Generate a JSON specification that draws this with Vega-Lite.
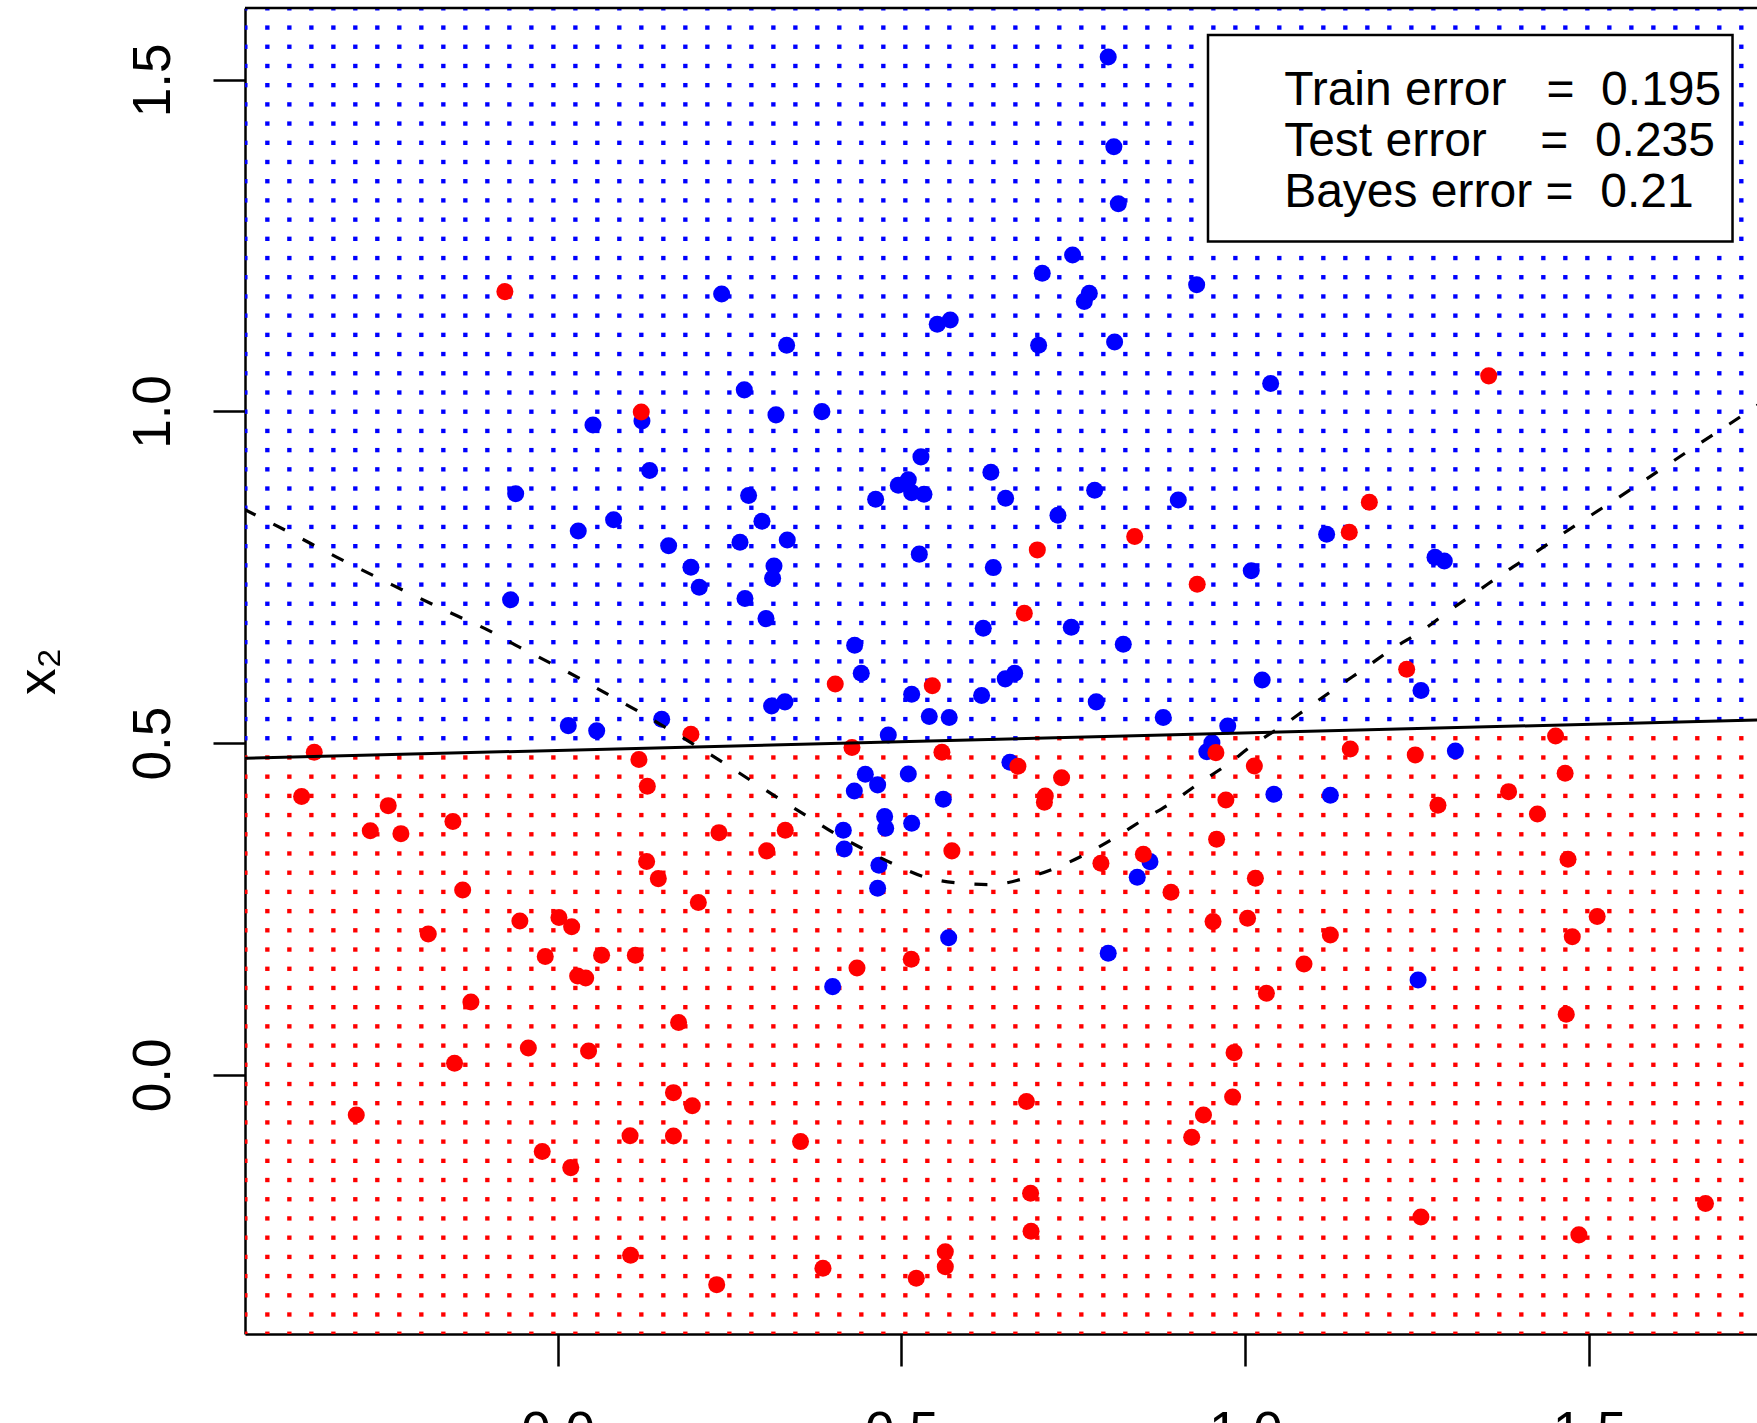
{
  "$schema": "https://vega.github.io/schema/vega-lite/v6.json",
  "width": 1512,
  "height": 1326,
  "autosize": {"type": "none"},
  "padding": {"left": 245, "top": 8, "right": 0, "bottom": 89},
  "background": "white",
  "config": {
    "view": {"stroke": null},
    "font": "Liberation Sans",
    "axis": {"grid": false}
  },
  "datasets": {
    "cols": [
      {"gx": -0.4540, "cut": 0.493, "gy": 1.6077, "v": 1},
      {"gx": -0.4220, "cut": 0.493, "gy": 1.6077, "v": 1},
      {"gx": -0.3900, "cut": 0.493, "gy": 1.6077, "v": 1},
      {"gx": -0.3580, "cut": 0.493, "gy": 1.6077, "v": 1},
      {"gx": -0.3260, "cut": 0.493, "gy": 1.6077, "v": 1},
      {"gx": -0.2941, "cut": 0.493, "gy": 1.6077, "v": 1},
      {"gx": -0.2621, "cut": 0.493, "gy": 1.6077, "v": 1},
      {"gx": -0.2301, "cut": 0.493, "gy": 1.6077, "v": 1},
      {"gx": -0.1981, "cut": 0.493, "gy": 1.6077, "v": 1},
      {"gx": -0.1661, "cut": 0.493, "gy": 1.6077, "v": 1},
      {"gx": -0.1341, "cut": 0.493, "gy": 1.6077, "v": 1},
      {"gx": -0.1021, "cut": 0.493, "gy": 1.6077, "v": 1},
      {"gx": -0.0701, "cut": 0.493, "gy": 1.6077, "v": 1},
      {"gx": -0.0381, "cut": 0.493, "gy": 1.6077, "v": 1},
      {"gx": -0.0061, "cut": 0.493, "gy": 1.6077, "v": 1},
      {"gx": 0.0259, "cut": 0.493, "gy": 1.6077, "v": 1},
      {"gx": 0.0578, "cut": 0.493, "gy": 1.6077, "v": 1},
      {"gx": 0.0898, "cut": 0.493, "gy": 1.6077, "v": 1},
      {"gx": 0.1218, "cut": 0.493, "gy": 1.6077, "v": 1},
      {"gx": 0.1538, "cut": 0.493, "gy": 1.6077, "v": 1},
      {"gx": 0.1858, "cut": 0.493, "gy": 1.6077, "v": 1},
      {"gx": 0.2178, "cut": 0.493, "gy": 1.6077, "v": 1},
      {"gx": 0.2498, "cut": 0.493, "gy": 1.6077, "v": 1},
      {"gx": 0.2818, "cut": 0.493, "gy": 1.6077, "v": 1},
      {"gx": 0.3138, "cut": 0.493, "gy": 1.6077, "v": 1},
      {"gx": 0.3458, "cut": 0.493, "gy": 1.6077, "v": 1},
      {"gx": 0.3777, "cut": 0.493, "gy": 1.6077, "v": 1},
      {"gx": 0.4097, "cut": 0.493, "gy": 1.6077, "v": 1},
      {"gx": 0.4417, "cut": 0.493, "gy": 1.6077, "v": 1},
      {"gx": 0.4737, "cut": 0.493, "gy": 1.6077, "v": 1},
      {"gx": 0.5057, "cut": 0.493, "gy": 1.6077, "v": 1},
      {"gx": 0.5377, "cut": 0.493, "gy": 1.6077, "v": 1},
      {"gx": 0.5697, "cut": 0.493, "gy": 1.6077, "v": 1},
      {"gx": 0.6017, "cut": 0.493, "gy": 1.6077, "v": 1},
      {"gx": 0.6337, "cut": 0.493, "gy": 1.6077, "v": 1},
      {"gx": 0.6657, "cut": 0.493, "gy": 1.6077, "v": 1},
      {"gx": 0.6976, "cut": 0.522, "gy": 1.6077, "v": 1},
      {"gx": 0.7296, "cut": 0.522, "gy": 1.6077, "v": 1},
      {"gx": 0.7616, "cut": 0.522, "gy": 1.6077, "v": 1},
      {"gx": 0.7936, "cut": 0.522, "gy": 1.6077, "v": 1},
      {"gx": 0.8256, "cut": 0.522, "gy": 1.6077, "v": 1},
      {"gx": 0.8576, "cut": 0.522, "gy": 1.6077, "v": 1},
      {"gx": 0.8896, "cut": 0.522, "gy": 1.6077, "v": 1},
      {"gx": 0.9216, "cut": 0.522, "gy": 1.6077, "v": 1},
      {"gx": 0.9536, "cut": 0.522, "gy": 1.6077, "v": 1},
      {"gx": 0.9856, "cut": 0.522, "gy": 1.6077, "v": 1},
      {"gx": 1.0175, "cut": 0.522, "gy": 1.6077, "v": 1},
      {"gx": 1.0495, "cut": 0.522, "gy": 1.6077, "v": 1},
      {"gx": 1.0815, "cut": 0.522, "gy": 1.6077, "v": 1},
      {"gx": 1.1135, "cut": 0.522, "gy": 1.6077, "v": 1},
      {"gx": 1.1455, "cut": 0.522, "gy": 1.6077, "v": 1},
      {"gx": 1.1775, "cut": 0.522, "gy": 1.6077, "v": 1},
      {"gx": 1.2095, "cut": 0.522, "gy": 1.6077, "v": 1},
      {"gx": 1.2415, "cut": 0.522, "gy": 1.6077, "v": 1},
      {"gx": 1.2735, "cut": 0.522, "gy": 1.6077, "v": 1},
      {"gx": 1.3055, "cut": 0.522, "gy": 1.6077, "v": 1},
      {"gx": 1.3374, "cut": 0.522, "gy": 1.6077, "v": 1},
      {"gx": 1.3694, "cut": 0.522, "gy": 1.6077, "v": 1},
      {"gx": 1.4014, "cut": 0.522, "gy": 1.6077, "v": 1},
      {"gx": 1.4334, "cut": 0.522, "gy": 1.6077, "v": 1},
      {"gx": 1.4654, "cut": 0.522, "gy": 1.6077, "v": 1},
      {"gx": 1.4974, "cut": 0.522, "gy": 1.6077, "v": 1},
      {"gx": 1.5294, "cut": 0.522, "gy": 1.6077, "v": 1},
      {"gx": 1.5614, "cut": 0.522, "gy": 1.6077, "v": 1},
      {"gx": 1.5934, "cut": 0.522, "gy": 1.6077, "v": 1},
      {"gx": 1.6254, "cut": 0.522, "gy": 1.6077, "v": 1},
      {"gx": 1.6573, "cut": 0.522, "gy": 1.6077, "v": 1},
      {"gx": 1.6893, "cut": 0.522, "gy": 1.6077, "v": 1},
      {"gx": 1.7213, "cut": 0.522, "gy": 1.6077, "v": 1}
    ],
    "train": [
      {"x1": 0.8007, "x2": 1.5343, "c": 0}, {"x1": 0.8089, "x2": 1.3992, "c": 0}, {"x1": 0.8154, "x2": 1.3130, "c": 0},
      {"x1": 0.7489, "x2": 1.2360, "c": 0}, {"x1": 0.7048, "x2": 1.2085, "c": 0}, {"x1": 0.7732, "x2": 1.1782, "c": 0},
      {"x1": 0.7659, "x2": 1.1657, "c": 0}, {"x1": 0.9293, "x2": 1.1909, "c": 0}, {"x1": 0.2386, "x2": 1.1772, "c": 0},
      {"x1": 0.5710, "x2": 1.1380, "c": 0}, {"x1": 0.5521, "x2": 1.1316, "c": 0}, {"x1": 0.8100, "x2": 1.1049, "c": 0},
      {"x1": 0.6995, "x2": 1.0998, "c": 0}, {"x1": 0.3331, "x2": 1.0998, "c": 0}, {"x1": 0.2715, "x2": 1.0326, "c": 0},
      {"x1": 1.0369, "x2": 1.0421, "c": 0}, {"x1": 0.3844, "x2": 0.9998, "c": 0}, {"x1": 0.3176, "x2": 0.9949, "c": 0},
      {"x1": 0.0515, "x2": 0.9797, "c": 0}, {"x1": 0.1227, "x2": 0.9858, "c": 0}, {"x1": 0.1339, "x2": 0.9110, "c": 0},
      {"x1": -0.0609, "x2": 0.8759, "c": 0}, {"x1": 0.2778, "x2": 0.8733, "c": 0}, {"x1": 0.4625, "x2": 0.8677, "c": 0},
      {"x1": 0.4954, "x2": 0.8889, "c": 0}, {"x1": 0.5100, "x2": 0.8970, "c": 0}, {"x1": 0.5284, "x2": 0.9316, "c": 0},
      {"x1": 0.5149, "x2": 0.8777, "c": 0}, {"x1": 0.5328, "x2": 0.8753, "c": 0}, {"x1": 0.6301, "x2": 0.9085, "c": 0},
      {"x1": 0.6515, "x2": 0.8693, "c": 0}, {"x1": 0.7810, "x2": 0.8814, "c": 0}, {"x1": 0.9026, "x2": 0.8667, "c": 0},
      {"x1": 0.7276, "x2": 0.8436, "c": 0}, {"x1": 0.0815, "x2": 0.8367, "c": 0}, {"x1": 0.0301, "x2": 0.8199, "c": 0},
      {"x1": 0.2972, "x2": 0.8346, "c": 0}, {"x1": 0.2653, "x2": 0.8029, "c": 0}, {"x1": 0.3340, "x2": 0.8064, "c": 0},
      {"x1": 0.1615, "x2": 0.7975, "c": 0}, {"x1": 0.1939, "x2": 0.7652, "c": 0}, {"x1": 0.2060, "x2": 0.7351, "c": 0},
      {"x1": 0.3147, "x2": 0.7672, "c": 0}, {"x1": 0.3127, "x2": 0.7486, "c": 0}, {"x1": 0.2725, "x2": 0.7181, "c": 0},
      {"x1": -0.0683, "x2": 0.7161, "c": 0}, {"x1": 0.3031, "x2": 0.6878, "c": 0}, {"x1": 0.5260, "x2": 0.7850, "c": 0},
      {"x1": 0.6336, "x2": 0.7647, "c": 0}, {"x1": 1.0087, "x2": 0.7601, "c": 0}, {"x1": 1.1183, "x2": 0.8150, "c": 0},
      {"x1": 1.2759, "x2": 0.7804, "c": 0}, {"x1": 1.2894, "x2": 0.7748, "c": 0}, {"x1": 0.7470, "x2": 0.6749, "c": 0},
      {"x1": 0.6190, "x2": 0.6733, "c": 0}, {"x1": 0.4320, "x2": 0.6476, "c": 0}, {"x1": 0.8226, "x2": 0.6492, "c": 0},
      {"x1": 0.4416, "x2": 0.6054, "c": 0}, {"x1": 0.6647, "x2": 0.6054, "c": 0}, {"x1": 0.6510, "x2": 0.5970, "c": 0},
      {"x1": 1.0246, "x2": 0.5954, "c": 0}, {"x1": 0.6166, "x2": 0.5718, "c": 0}, {"x1": 0.5149, "x2": 0.5738, "c": 0},
      {"x1": 1.2555, "x2": 0.5794, "c": 0}, {"x1": 0.3306, "x2": 0.5623, "c": 0}, {"x1": 0.3112, "x2": 0.5562, "c": 0},
      {"x1": 0.5405, "x2": 0.5402, "c": 0}, {"x1": 0.5695, "x2": 0.5387, "c": 0}, {"x1": 0.1514, "x2": 0.5362, "c": 0},
      {"x1": 0.7833, "x2": 0.5623, "c": 0}, {"x1": 0.8807, "x2": 0.5387, "c": 0}, {"x1": 0.9745, "x2": 0.5260, "c": 0},
      {"x1": 0.0156, "x2": 0.5265, "c": 0}, {"x1": 0.0569, "x2": 0.5186, "c": 0}, {"x1": 0.4809, "x2": 0.5125, "c": 0},
      {"x1": 0.9441, "x2": 0.4870, "c": 0}, {"x1": 0.9515, "x2": 0.5005, "c": 0}, {"x1": 0.6578, "x2": 0.4713, "c": 0},
      {"x1": 0.4475, "x2": 0.4532, "c": 0}, {"x1": 0.4654, "x2": 0.4372, "c": 0}, {"x1": 0.4315, "x2": 0.4280, "c": 0},
      {"x1": 0.5100, "x2": 0.4537, "c": 0}, {"x1": 0.5609, "x2": 0.4155, "c": 0}, {"x1": 0.4756, "x2": 0.3894, "c": 0},
      {"x1": 0.4771, "x2": 0.3718, "c": 0}, {"x1": 0.5149, "x2": 0.3794, "c": 0}, {"x1": 0.4155, "x2": 0.3688, "c": 0},
      {"x1": 0.4168, "x2": 0.3407, "c": 0}, {"x1": 0.4673, "x2": 0.3160, "c": 0}, {"x1": 0.4654, "x2": 0.2814, "c": 0},
      {"x1": 0.8614, "x2": 0.3215, "c": 0}, {"x1": 0.8429, "x2": 0.2980, "c": 0}, {"x1": 0.5687, "x2": 0.2069, "c": 0},
      {"x1": 0.8007, "x2": 0.1834, "c": 0}, {"x1": 0.4000, "x2": 0.1331, "c": 0}, {"x1": 1.0416, "x2": 0.4231, "c": 0},
      {"x1": 1.1237, "x2": 0.4216, "c": 0}, {"x1": 1.3055, "x2": 0.4884, "c": 0}, {"x1": 1.2513, "x2": 0.1432, "c": 0},
      {"x1": -0.0766, "x2": 1.1807, "c": 1}, {"x1": 0.1217, "x2": 0.9993, "c": 1}, {"x1": 0.6976, "x2": 0.7914, "c": 1},
      {"x1": 0.8392, "x2": 0.8115, "c": 1}, {"x1": 0.9301, "x2": 0.7397, "c": 1}, {"x1": 1.1512, "x2": 0.8181, "c": 1},
      {"x1": 1.1804, "x2": 0.8632, "c": 1}, {"x1": 1.3540, "x2": 1.0537, "c": 1}, {"x1": 0.6787, "x2": 0.6960, "c": 1},
      {"x1": 0.4038, "x2": 0.5894, "c": 1}, {"x1": 0.5449, "x2": 0.5867, "c": 1}, {"x1": 1.2347, "x2": 0.6115, "c": 1},
      {"x1": 0.1939, "x2": 0.5135, "c": 1}, {"x1": -0.3538, "x2": 0.4863, "c": 1}, {"x1": 0.1183, "x2": 0.4753, "c": 1},
      {"x1": 0.1305, "x2": 0.4351, "c": 1}, {"x1": -0.3722, "x2": 0.4196, "c": 1}, {"x1": -0.2462, "x2": 0.4059, "c": 1},
      {"x1": -0.2723, "x2": 0.3682, "c": 1}, {"x1": -0.2278, "x2": 0.3637, "c": 1}, {"x1": -0.1522, "x2": 0.3819, "c": 1},
      {"x1": 0.1295, "x2": 0.3216, "c": 1}, {"x1": 0.1465, "x2": 0.2959, "c": 1}, {"x1": -0.1380, "x2": 0.2789, "c": 1},
      {"x1": 0.2047, "x2": 0.2598, "c": 1}, {"x1": -0.0548, "x2": 0.2321, "c": 1}, {"x1": 0.0020, "x2": 0.2372, "c": 1},
      {"x1": 0.0205, "x2": 0.2235, "c": 1}, {"x1": -0.1880, "x2": 0.2125, "c": 1}, {"x1": -0.0179, "x2": 0.1784, "c": 1},
      {"x1": 0.0640, "x2": 0.1804, "c": 1}, {"x1": 0.1131, "x2": 0.1804, "c": 1}, {"x1": 0.0292, "x2": 0.1492, "c": 1},
      {"x1": 0.0409, "x2": 0.1461, "c": 1}, {"x1": -0.1260, "x2": 0.1100, "c": 1}, {"x1": 0.1760, "x2": 0.0789, "c": 1},
      {"x1": -0.0425, "x2": 0.0407, "c": 1}, {"x1": 0.0451, "x2": 0.0361, "c": 1}, {"x1": -0.1498, "x2": 0.0176, "c": 1},
      {"x1": 0.2347, "x2": 0.3652, "c": 1}, {"x1": 0.4281, "x2": 0.4934, "c": 1}, {"x1": 0.5589, "x2": 0.4865, "c": 1},
      {"x1": 0.6694, "x2": 0.4654, "c": 1}, {"x1": 0.7329, "x2": 0.4481, "c": 1}, {"x1": 0.7092, "x2": 0.4203, "c": 1},
      {"x1": 0.7079, "x2": 0.4110, "c": 1}, {"x1": 0.3311, "x2": 0.3688, "c": 1}, {"x1": 0.3041, "x2": 0.3377, "c": 1},
      {"x1": 0.5734, "x2": 0.3377, "c": 1}, {"x1": 0.7901, "x2": 0.3191, "c": 1}, {"x1": 0.8518, "x2": 0.3326, "c": 1},
      {"x1": 0.8920, "x2": 0.2753, "c": 1}, {"x1": 0.9583, "x2": 0.3552, "c": 1}, {"x1": 0.9531, "x2": 0.2311, "c": 1},
      {"x1": 0.9718, "x2": 0.4145, "c": 1}, {"x1": 0.5143, "x2": 0.1743, "c": 1}, {"x1": 0.4354, "x2": 0.1613, "c": 1},
      {"x1": 0.9573, "x2": 0.4858, "c": 1}, {"x1": 1.0132, "x2": 0.4657, "c": 1}, {"x1": 1.1527, "x2": 0.4914, "c": 1},
      {"x1": 1.2472, "x2": 0.4824, "c": 1}, {"x1": 1.4512, "x2": 0.5110, "c": 1}, {"x1": 1.4651, "x2": 0.4547, "c": 1},
      {"x1": 1.2802, "x2": 0.4066, "c": 1}, {"x1": 1.3829, "x2": 0.4270, "c": 1}, {"x1": 1.4248, "x2": 0.3934, "c": 1},
      {"x1": 1.4693, "x2": 0.3252, "c": 1}, {"x1": 1.0147, "x2": 0.2965, "c": 1}, {"x1": 1.0033, "x2": 0.2362, "c": 1},
      {"x1": 1.5117, "x2": 0.2387, "c": 1}, {"x1": 1.4755, "x2": 0.2084, "c": 1}, {"x1": 1.1237, "x2": 0.2110, "c": 1},
      {"x1": 1.0854, "x2": 0.1672, "c": 1}, {"x1": 1.0307, "x2": 0.1231, "c": 1}, {"x1": 1.4667, "x2": 0.0914, "c": 1},
      {"x1": 0.9837, "x2": 0.0336, "c": 1}, {"x1": 0.1685, "x2": -0.0267, "c": 1}, {"x1": 0.1959, "x2": -0.0463, "c": 1},
      {"x1": 0.6818, "x2": -0.0402, "c": 1}, {"x1": 0.9221, "x2": -0.0939, "c": 1}, {"x1": 0.9392, "x2": -0.0603, "c": 1},
      {"x1": 0.1054, "x2": -0.0916, "c": 1}, {"x1": 0.1685, "x2": -0.0919, "c": 1}, {"x1": 0.3533, "x2": -0.1005, "c": 1},
      {"x1": -0.0223, "x2": -0.1155, "c": 1}, {"x1": 0.0192, "x2": -0.1397, "c": 1}, {"x1": 0.6878, "x2": -0.1784, "c": 1},
      {"x1": 0.6885, "x2": -0.2356, "c": 1}, {"x1": 0.1062, "x2": -0.2718, "c": 1}, {"x1": 0.2314, "x2": -0.3161, "c": 1},
      {"x1": 0.3859, "x2": -0.2914, "c": 1}, {"x1": 0.5216, "x2": -0.3066, "c": 1}, {"x1": 0.5638, "x2": -0.2664, "c": 1},
      {"x1": 0.5638, "x2": -0.2890, "c": 1}, {"x1": 0.9816, "x2": -0.0333, "c": 1}, {"x1": -0.2927, "x2": -0.0603, "c": 1},
      {"x1": 1.2554, "x2": -0.2140, "c": 1}, {"x1": 1.4851, "x2": -0.2411, "c": 1}, {"x1": 1.6692, "x2": -0.1938, "c": 1}
    ],
    "fit": [
      {"x1": -0.4545, "x2": 0.4772},
      {"x1": 1.7600, "x2": 0.5354}
    ],
    "bayes": [
      {"x1": -0.4560, "x2": 0.8528}, {"x1": -0.3872, "x2": 0.8164}, {"x1": -0.3220, "x2": 0.7809},
      {"x1": -0.2405, "x2": 0.7387}, {"x1": -0.1590, "x2": 0.6981}, {"x1": -0.0968, "x2": 0.6682},
      {"x1": -0.0548, "x2": 0.6444}, {"x1": -0.0116, "x2": 0.6215}, {"x1": 0.0300, "x2": 0.5988},
      {"x1": 0.0719, "x2": 0.5743}, {"x1": 0.1183, "x2": 0.5476}, {"x1": 0.1561, "x2": 0.5242},
      {"x1": 0.1973, "x2": 0.4988}, {"x1": 0.2386, "x2": 0.4723}, {"x1": 0.2798, "x2": 0.4446},
      {"x1": 0.3210, "x2": 0.4171}, {"x1": 0.3622, "x2": 0.3904}, {"x1": 0.4033, "x2": 0.3637},
      {"x1": 0.4470, "x2": 0.3392}, {"x1": 0.4892, "x2": 0.3176}, {"x1": 0.5302, "x2": 0.2995},
      {"x1": 0.5817, "x2": 0.2894}, {"x1": 0.6313, "x2": 0.2868}, {"x1": 0.6797, "x2": 0.2965},
      {"x1": 0.7243, "x2": 0.3120}, {"x1": 0.7678, "x2": 0.3328}, {"x1": 0.8090, "x2": 0.3568},
      {"x1": 0.8504, "x2": 0.3840}, {"x1": 0.8929, "x2": 0.4105}, {"x1": 0.9329, "x2": 0.4397},
      {"x1": 0.9741, "x2": 0.4681}, {"x1": 1.0112, "x2": 0.4975}, {"x1": 1.0539, "x2": 0.5260},
      {"x1": 1.0940, "x2": 0.5557}, {"x1": 1.1369, "x2": 0.5868}, {"x1": 1.1755, "x2": 0.6142},
      {"x1": 1.2151, "x2": 0.6431}, {"x1": 1.2558, "x2": 0.6686}, {"x1": 1.2964, "x2": 0.6995},
      {"x1": 1.3371, "x2": 0.7286}, {"x1": 1.3780, "x2": 0.7581}, {"x1": 1.4194, "x2": 0.7858},
      {"x1": 1.4587, "x2": 0.8137}, {"x1": 1.4998, "x2": 0.8416}, {"x1": 1.5411, "x2": 0.8693},
      {"x1": 1.5824, "x2": 0.8975}, {"x1": 1.6231, "x2": 0.9258}, {"x1": 1.6637, "x2": 0.9539},
      {"x1": 1.7041, "x2": 0.9811}, {"x1": 1.7442, "x2": 1.0090}, {"x1": 1.7800, "x2": 1.0326}
    ]
  },
  "layer": [
    {
      "data": {"name": "cols"},
      "transform": [
        {
          "impute": "v",
          "key": "gy",
          "groupby": ["gx", "cut"],
          "value": 1,
          "keyvals": [
            1.6077, 1.5787, 1.5498, 1.5208, 1.4919, 1.4629, 1.4340, 1.4050, 1.3761, 1.3471,
            1.3182, 1.2892, 1.2603, 1.2313, 1.2024, 1.1734, 1.1445, 1.1155, 1.0866, 1.0576,
            1.0286, 0.9997, 0.9707, 0.9418, 0.9128, 0.8839, 0.8549, 0.8260, 0.7970, 0.7681,
            0.7391, 0.7102, 0.6812, 0.6523, 0.6233, 0.5944, 0.5654, 0.5364, 0.5075, 0.4785,
            0.4496, 0.4206, 0.3917, 0.3627, 0.3338, 0.3048, 0.2759, 0.2469, 0.2180, 0.1890,
            0.1600, 0.1311, 0.1021, 0.0732, 0.0442, 0.0153, -0.0137, -0.0426, -0.0716, -0.1005,
            -0.1295, -0.1584, -0.1874, -0.2163, -0.2453, -0.2743, -0.3032, -0.3322, -0.3611, -0.3901
          ]
        }
      ],
      "mark": {"type": "point", "shape": "square", "filled": true, "size": 19, "opacity": 1, "strokeWidth": 0, "clip": true},
      "encoding": {
        "x": {
          "field": "gx",
          "type": "quantitative",
          "scale": {"domain": [-0.4545, 1.7441], "nice": false, "zero": false},
          "axis": {
            "values": [0, 0.5, 1, 1.5],
            "format": ".1f",
            "title": null,
            "domainColor": "black",
            "domainWidth": 2.5,
            "tickColor": "black",
            "tickWidth": 2.5,
            "tickSize": 32,
            "labelColor": "black",
            "labelFont": "Liberation Sans",
            "labelFontSize": 53,
            "labelBaseline": "alphabetic",
            "labelPadding": 82,
            "labelFlush": false,
            "labelOverlap": false
          }
        },
        "y": {
          "field": "gy",
          "type": "quantitative",
          "scale": {"domain": [-0.3905, 1.6082], "nice": false, "zero": false},
          "axis": {
            "values": [0, 0.5, 1, 1.5],
            "format": ".1f",
            "title": "x₂",
            "titleFont": "Liberation Sans",
            "titleFontSize": 53,
            "titleFontWeight": "normal",
            "titleColor": "black",
            "titleAngle": -90,
            "titleAlign": "center",
            "titleBaseline": "alphabetic",
            "titleX": -191,
            "titleY": 663,
            "domainColor": "black",
            "domainWidth": 2.5,
            "tickColor": "black",
            "tickWidth": 2.5,
            "tickSize": 32,
            "labelColor": "black",
            "labelFont": "Liberation Sans",
            "labelFontSize": 53,
            "labelAngle": -90,
            "labelAlign": "center",
            "labelBaseline": "alphabetic",
            "labelPadding": 44,
            "labelFlush": false,
            "labelOverlap": false
          }
        },
        "color": {"condition": {"test": "datum.gy > datum.cut", "value": "#0000ff"}, "value": "#ff0000"}
      }
    },
    {
      "data": {"name": "train"},
      "mark": {"type": "point", "shape": "circle", "filled": true, "size": 290, "opacity": 1, "strokeWidth": 0, "clip": true},
      "encoding": {
        "x": {"field": "x1", "type": "quantitative"},
        "y": {"field": "x2", "type": "quantitative"},
        "color": {"field": "c", "type": "nominal", "scale": {"domain": [0, 1], "range": ["#0000ff", "#ff0000"]}, "legend": null}
      }
    },
    {
      "data": {"name": "fit"},
      "mark": {"type": "line", "color": "black", "strokeWidth": 3, "clip": true},
      "encoding": {
        "x": {"field": "x1", "type": "quantitative"},
        "y": {"field": "x2", "type": "quantitative"}
      }
    },
    {
      "data": {"name": "bayes"},
      "mark": {"type": "line", "color": "black", "strokeWidth": 3.2, "strokeDash": [13, 20], "interpolate": "monotone", "clip": true},
      "encoding": {
        "x": {"field": "x1", "type": "quantitative"},
        "y": {"field": "x2", "type": "quantitative"}
      }
    },
    {
      "data": {"values": [{}]},
      "mark": {"type": "rule", "color": "black", "strokeWidth": 2.5},
      "encoding": {"y": {"datum": 1.6082, "type": "quantitative"}}
    },
    {
      "data": {"values": [{}]},
      "mark": {"type": "rect", "fill": "white", "stroke": "black", "strokeWidth": 2.5},
      "encoding": {
        "x": {"datum": 0.9458, "type": "quantitative"},
        "x2": {"datum": 1.7085},
        "y": {"datum": 1.5675, "type": "quantitative"},
        "y2": {"datum": 1.2562}
      }
    },
    {
      "data": {"values": [{}]},
      "mark": {"type": "text", "align": "left", "baseline": "alphabetic", "font": "Liberation Sans", "fontSize": 48, "color": "black"},
      "encoding": {
        "x": {"datum": 1.0565, "type": "quantitative"},
        "y": {"datum": 1.4620, "type": "quantitative"},
        "text": {"value": "Train error\u00a0\u00a0\u00a0=\u00a0\u00a00.195"}
      }
    },
    {
      "data": {"values": [{}]},
      "mark": {"type": "text", "align": "left", "baseline": "alphabetic", "font": "Liberation Sans", "fontSize": 48, "color": "black"},
      "encoding": {
        "x": {"datum": 1.0565, "type": "quantitative"},
        "y": {"datum": 1.3856, "type": "quantitative"},
        "text": {"value": "Test error\u00a0\u00a0\u00a0\u00a0=\u00a0\u00a00.235"}
      }
    },
    {
      "data": {"values": [{}]},
      "mark": {"type": "text", "align": "left", "baseline": "alphabetic", "font": "Liberation Sans", "fontSize": 48, "color": "black"},
      "encoding": {
        "x": {"datum": 1.0565, "type": "quantitative"},
        "y": {"datum": 1.3078, "type": "quantitative"},
        "text": {"value": "Bayes error\u00a0=\u00a0\u00a00.21"}
      }
    }
  ]
}
